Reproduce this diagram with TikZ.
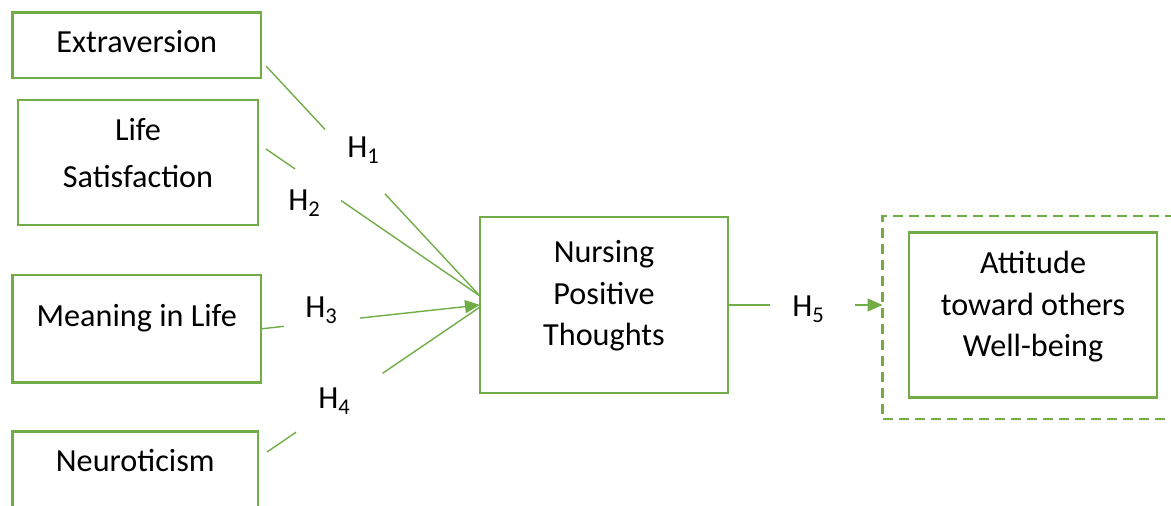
\documentclass[tikz,border=0pt]{standalone}
\usepackage{fontspec}
\setmainfont{Carlito}
\usepackage{tikz}
\usetikzlibrary{arrows.meta}
\definecolor{grn}{RGB}{112,173,71}

\begin{document}
\begin{tikzpicture}[
  x=0.5pt, y=-0.5pt,
  var/.style={draw=grn, line width=1.4pt, inner sep=0pt, outer sep=0pt, anchor=north, align=center, font=\fontsize{16.1}{20.8}\selectfont},
  outcome/.style={draw=grn, dash pattern=on 5pt off 3pt, line width=1.3pt, inner sep=0pt, outer sep=0pt},
  hyp/.style={inner sep=0pt, anchor=base west, font=\fontsize{16.1}{20.8}\selectfont},
  link/.style={draw=grn, line width=0.7pt},
  arrow/.style={link, -{Triangle[length=7.5pt, width=6.5pt]}}
]
  \useasboundingbox (0,0) rectangle (1171,506);
  \clip (0,0) rectangle (1171,506);

  % Predictors (left column)
  \node[var, minimum width=124.25pt, text height=20.25pt, text depth=12.5pt] (ext) at (136.75,12.5) {Extraversion};
  \node[var, minimum width=120pt, text height=43.85pt, text depth=18.65pt] (ls) at (138,100) {Life\\[3pt]Satisfaction};
  \node[var, minimum width=124.25pt, text height=26pt, text depth=27.75pt] (mil) at (136.75,275) {Meaning in Life};
  \node[var, minimum width=122.75pt, text height=20.25pt, text depth=29.25pt] (neu) at (135.25,431.5) {Neuroticism};

  % Mediator and outcome
  \node[var, minimum width=124pt, text height=64.5pt, text depth=23.5pt] (npt) at (604,217) {Nursing\\Positive\\Thoughts};
  \node[outcome, minimum width=150.25pt, minimum height=101.5pt] (wb) at (1032.75,317.5) {};
  \node[var, minimum width=124pt, text height=62.1pt, text depth=20.4pt] (att) at (1033,232.5) {Attitude\\toward others\\Well-being};

  % Hypothesis labels
  \node[hyp] (h1) at (347,158) {H\textsubscript{1}};
  \node[hyp] (h2) at (288,211) {H\textsubscript{2}};
  \node[hyp] (h3) at (305,318) {H\textsubscript{3}};
  \node[hyp] (h4) at (318,409) {H\textsubscript{4}};
  \node[hyp] (h5) at (792,317) {H\textsubscript{5}};

  % Paths
  \draw[link, dash pattern=on 43.3pt off 44pt on 400pt] ([shift={(5,20.75)}]ext.east) -- ([shift={(0,-9)}]npt.west);
  \draw[link, dash pattern=on 17.6pt off 27.9pt on 400pt] ([shift={(8,-13.5)}]ls.east) -- ([shift={(0,-9)}]npt.west);
  \draw[arrow, dash pattern=on 11pt off 38.2pt on 400pt] ([shift={(1,0)}]mil.east) -- (npt.west);
  \draw[link, dash pattern=on 17.6pt off 52.3pt on 400pt] ([shift={(9,20.5)}]neu.north east) -- ([shift={(0,2)}]npt.west);
  \draw[arrow, dash pattern=on 21pt off 42.5pt on 400pt] (npt.east) -- (npt.east -| wb.west);

\end{tikzpicture}
\end{document}
